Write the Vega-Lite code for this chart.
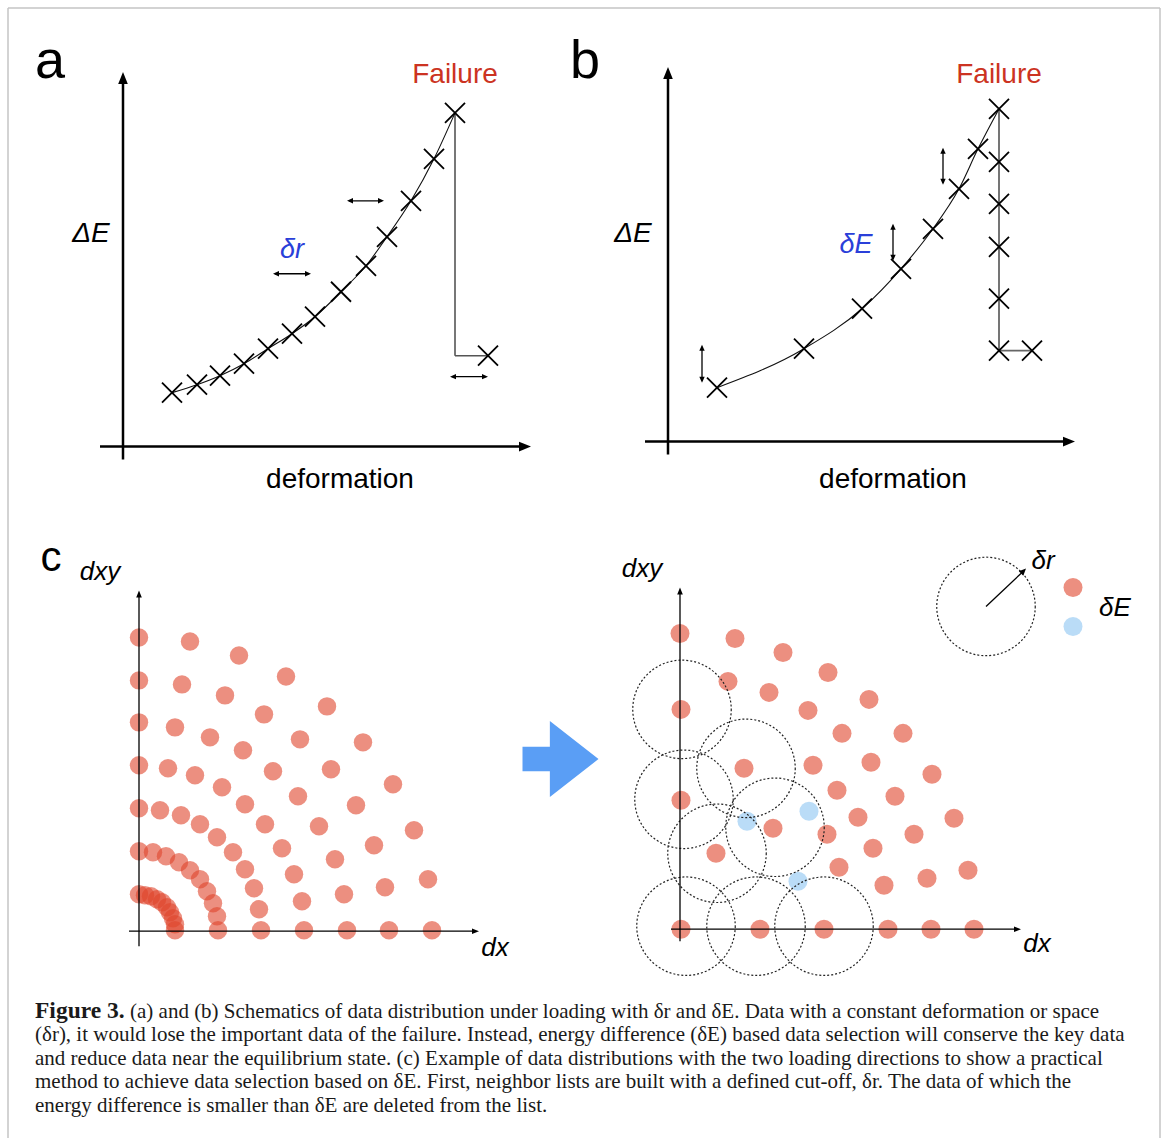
{
  "$schema": "https://vega.github.io/schema/vega-lite/v6.json",
  "width": 1167,
  "height": 1139,
  "padding": 0,
  "autosize": {"type": "fit", "contains": "padding"},
  "background": "white",
  "config": {"view": {"stroke": null}},
  "datasets": {
    "frame": [{"x":8,"y":8,"x2":1160,"y2":8},{"x":8,"y":8,"x2":8,"y2":1139},{"x":1160,"y":8,"x2":1160,"y2":1139}],
    "axesAB": [{"x":123,"y":460,"x2":123,"y2":80},{"x":100,"y":447,"x2":524,"y2":447},{"x":668,"y":455,"x2":668,"y2":75},{"x":645,"y":442,"x2":1067,"y2":442}],
    "headUpAB": [{"x":123,"y":72},{"x":668,"y":67}],
    "headRightAB": [{"x":531,"y":447},{"x":1075,"y":442}],
    "axesC": [{"x":139,"y":947,"x2":139,"y2":596},{"x":129,"y":932,"x2":474,"y2":932},{"x":680,"y":942,"x2":680,"y2":593},{"x":671,"y":930,"x2":1016,"y2":930}],
    "headUpC": [{"x":139,"y":591},{"x":680,"y":588}],
    "headRightC": [{"x":479,"y":932},{"x":1021,"y":930}],
    "shafts": [{"x":275,"y":274,"x2":309,"y2":274},{"x":349,"y":201,"x2":382,"y2":201},{"x":452,"y":377,"x2":486,"y2":377},{"x":702,"y":347,"x2":702,"y2":381},{"x":893,"y":226,"x2":893,"y2":259},{"x":943,"y":150,"x2":943,"y2":183},{"x":986,"y":607,"x2":1022,"y2":573}],
    "headLeftS": [{"x":273,"y":274},{"x":347,"y":201},{"x":450,"y":377}],
    "headRightS": [{"x":311,"y":274},{"x":384,"y":201},{"x":488,"y":377}],
    "headUpS": [{"x":702,"y":345},{"x":893,"y":224},{"x":943,"y":148}],
    "headDownS": [{"x":702,"y":383},{"x":893,"y":261},{"x":943,"y":185}],
    "headDiag": [{"x":1026,"y":569}],
    "curveA": [{"x":172,"y":393},{"x":197,"y":385},{"x":220,"y":376},{"x":244,"y":364},{"x":268,"y":349},{"x":292,"y":334},{"x":315,"y":317},{"x":341,"y":292},{"x":366,"y":266},{"x":387,"y":237},{"x":411,"y":201},{"x":434,"y":159},{"x":455,"y":113}],
    "crossA": [{"x":172,"y":393},{"x":197,"y":385},{"x":220,"y":376},{"x":244,"y":364},{"x":268,"y":349},{"x":292,"y":334},{"x":315,"y":317},{"x":341,"y":292},{"x":366,"y":266},{"x":387,"y":237},{"x":411,"y":201},{"x":434,"y":159},{"x":455,"y":113},{"x":488,"y":356}],
    "dropA": [{"x":455,"y":113,"x2":455,"y2":356},{"x":455,"y":356,"x2":488,"y2":356}],
    "curveB": [{"x":717,"y":388},{"x":804,"y":349},{"x":862,"y":309},{"x":901,"y":269},{"x":933,"y":229},{"x":959,"y":189},{"x":978,"y":149},{"x":999,"y":109}],
    "crossB": [{"x":717,"y":388},{"x":804,"y":349},{"x":862,"y":309},{"x":901,"y":269},{"x":933,"y":229},{"x":959,"y":189},{"x":978,"y":149},{"x":999,"y":109},{"x":999,"y":162},{"x":999,"y":204},{"x":999,"y":247},{"x":999,"y":299},{"x":999,"y":351},{"x":1032,"y":351}],
    "dropB": [{"x":999,"y":109,"x2":999,"y2":351},{"x":999,"y":351,"x2":1032,"y2":351}],
    "dotsL": [
      {"x":175,"y":931},{"x":175,"y":925},{"x":173,"y":919},{"x":170,"y":913},{"x":167,"y":908},{"x":162,"y":903},{"x":157,"y":900},{"x":151,"y":897},{"x":145,"y":896},{"x":139,"y":895},
      {"x":218,"y":931},{"x":217,"y":917},{"x":213,"y":904},{"x":207,"y":892},{"x":200,"y":880},{"x":190,"y":871},{"x":179,"y":863},{"x":166,"y":857},{"x":153,"y":853},{"x":139,"y":852},
      {"x":261,"y":931},{"x":259,"y":910},{"x":254,"y":889},{"x":245,"y":870},{"x":233,"y":853},{"x":217,"y":838},{"x":200,"y":825},{"x":181,"y":816},{"x":160,"y":811},{"x":139,"y":809},
      {"x":304,"y":931},{"x":302,"y":902},{"x":294,"y":875},{"x":282,"y":849},{"x":265,"y":825},{"x":245,"y":805},{"x":222,"y":788},{"x":195,"y":776},{"x":168,"y":769},{"x":139,"y":766},
      {"x":347,"y":931},{"x":344,"y":895},{"x":335,"y":860},{"x":319,"y":827},{"x":298,"y":797},{"x":273,"y":772},{"x":243,"y":751},{"x":210,"y":738},{"x":175,"y":728},{"x":139,"y":723},
      {"x":389,"y":931},{"x":385,"y":888},{"x":374,"y":846},{"x":356,"y":806},{"x":331,"y":770},{"x":300,"y":740},{"x":264,"y":715},{"x":225,"y":696},{"x":182,"y":685},{"x":139,"y":681},
      {"x":432,"y":931},{"x":428,"y":880},{"x":414,"y":831},{"x":393,"y":785},{"x":363,"y":743},{"x":327,"y":707},{"x":286,"y":677},{"x":239,"y":656},{"x":190,"y":642},{"x":139,"y":638}
    ],
    "dotsR": [
      {"x":680,"y":634},{"x":735,"y":639},{"x":783,"y":653},{"x":828,"y":673},{"x":869,"y":700},{"x":903,"y":734},{"x":932,"y":775},{"x":954,"y":819},{"x":968,"y":871},{"x":974,"y":930},
      {"x":728,"y":682},{"x":769,"y":693},{"x":808,"y":711},{"x":842,"y":734},{"x":871,"y":763},{"x":895,"y":797},{"x":914,"y":835},{"x":927,"y":879},{"x":931,"y":930},
      {"x":681,"y":710},
      {"x":744,"y":769},{"x":813,"y":766},{"x":837,"y":791},{"x":858,"y":818},{"x":873,"y":849},{"x":884,"y":886},{"x":888,"y":930},
      {"x":681,"y":801},
      {"x":773,"y":829},{"x":827,"y":835},{"x":839,"y":868},{"x":824,"y":930},
      {"x":716,"y":854},
      {"x":681,"y":930},{"x":760,"y":930},
      {"x":1073,"y":588}
    ],
    "dotsB": [{"x":747,"y":822},{"x":809,"y":812},{"x":798,"y":882},{"x":1073,"y":627}],
    "circles": [{"x":682,"y":710},{"x":746,"y":769},{"x":684,"y":800},{"x":717,"y":854},{"x":775,"y":828},{"x":686,"y":927},{"x":756,"y":927},{"x":824,"y":927},{"x":986,"y":607}],
    "bigArrow": [{"x":560.5,"y":759.7}],
    "letters": [{"x":50,"y":78,"t":"a"},{"x":585,"y":78,"t":"b"}],
    "letterC": [{"x":51,"y":572,"t":"c"}],
    "failure": [{"x":455,"y":83,"t":"Failure"},{"x":999,"y":83,"t":"Failure"}],
    "titleItalic": [{"x":91,"y":242,"t":"ΔE"},{"x":633,"y":242,"t":"ΔE"}],
    "titleNormal": [{"x":340,"y":488,"t":"deformation"},{"x":893,"y":488,"t":"deformation"}],
    "blueLabels": [{"x":292,"y":258,"t":"δr"},{"x":856,"y":253,"t":"δE"}],
    "cLabels": [{"x":100,"y":581,"t":"dxy"},{"x":495,"y":957,"t":"dx"},{"x":642,"y":578,"t":"dxy"},{"x":1037,"y":953,"t":"dx"},{"x":1043,"y":569,"t":"δr"},{"x":1115,"y":617,"t":"δE"}],
    "capBold": [{"x":35,"y":1019,"t":"Figure 3."}],
    "capText": [
      {"x":130,"y":1019,"t":"(a) and (b) Schematics of data distribution under loading with δr and δE. Data with a constant deformation or space"},
      {"x":35,"y":1042,"t":"(δr), it would lose the important data of the failure. Instead, energy difference (δE) based data selection will conserve the key data"},
      {"x":35,"y":1066,"t":"and reduce data near the equilibrium state. (c) Example of data distributions with the two loading directions to show a practical"},
      {"x":35,"y":1089,"t":"method to achieve data selection based on δE. First, neighbor lists are built with a defined cut-off, δr. The data of which the"},
      {"x":35,"y":1113,"t":"energy difference is smaller than δE are deleted from the list."}
    ]
  },
  "encoding": {
    "x": {"field": "x", "type": "quantitative", "scale": {"domain": [0, 1167], "nice": false, "zero": false}, "axis": null},
    "y": {"field": "y", "type": "quantitative", "scale": {"domain": [0, 1139], "reverse": true, "nice": false, "zero": false}, "axis": null}
  },
  "layer": [
    {"data": {"name": "frame"}, "mark": {"type": "rule", "color": "#c4c4c4", "strokeWidth": 1.5}, "encoding": {"x2": {"field": "x2"}, "y2": {"field": "y2"}}},
    {"data": {"name": "dotsL"}, "mark": {"type": "point", "shape": "circle", "filled": true, "size": 340, "color": "#e0442c", "opacity": 0.6, "strokeWidth": 0}},
    {"data": {"name": "dotsR"}, "mark": {"type": "point", "shape": "circle", "filled": true, "size": 361, "color": "#e0442c", "opacity": 0.6, "strokeWidth": 0}},
    {"data": {"name": "dotsB"}, "mark": {"type": "point", "shape": "circle", "filled": true, "size": 361, "color": "#8cc4f2", "opacity": 0.6, "strokeWidth": 0}},
    {"data": {"name": "circles"}, "mark": {"type": "point", "shape": "circle", "filled": false, "size": 9700, "color": "#222222", "opacity": 1, "strokeWidth": 1.2, "strokeDash": [2, 2]}},
    {"data": {"name": "axesAB"}, "mark": {"type": "rule", "color": "#000000", "strokeWidth": 2.5}, "encoding": {"x2": {"field": "x2"}, "y2": {"field": "y2"}}},
    {"data": {"name": "headUpAB"}, "mark": {"type": "point", "shape": "M0,0L-0.4,1L0.4,1Z", "filled": true, "size": 576, "color": "#000000", "opacity": 1, "strokeWidth": 0}},
    {"data": {"name": "headRightAB"}, "mark": {"type": "point", "shape": "M0,0L-1,-0.4L-1,0.4Z", "filled": true, "size": 576, "color": "#000000", "opacity": 1, "strokeWidth": 0}},
    {"data": {"name": "axesC"}, "mark": {"type": "rule", "color": "#000000", "strokeWidth": 1.3}, "encoding": {"x2": {"field": "x2"}, "y2": {"field": "y2"}}},
    {"data": {"name": "headUpC"}, "mark": {"type": "point", "shape": "M0,0L-0.4,1L0.4,1Z", "filled": true, "size": 196, "color": "#000000", "opacity": 1, "strokeWidth": 0}},
    {"data": {"name": "headRightC"}, "mark": {"type": "point", "shape": "M0,0L-1,-0.4L-1,0.4Z", "filled": true, "size": 196, "color": "#000000", "opacity": 1, "strokeWidth": 0}},
    {"data": {"name": "shafts"}, "mark": {"type": "rule", "color": "#000000", "strokeWidth": 1.3}, "encoding": {"x2": {"field": "x2"}, "y2": {"field": "y2"}}},
    {"data": {"name": "headLeftS"}, "mark": {"type": "point", "shape": "M0,0L1,-0.45L1,0.45Z", "filled": true, "size": 144, "color": "#000000", "opacity": 1, "strokeWidth": 0}},
    {"data": {"name": "headRightS"}, "mark": {"type": "point", "shape": "M0,0L-1,-0.45L-1,0.45Z", "filled": true, "size": 144, "color": "#000000", "opacity": 1, "strokeWidth": 0}},
    {"data": {"name": "headUpS"}, "mark": {"type": "point", "shape": "M0,0L-0.45,1L0.45,1Z", "filled": true, "size": 144, "color": "#000000", "opacity": 1, "strokeWidth": 0}},
    {"data": {"name": "headDownS"}, "mark": {"type": "point", "shape": "M0,0L-0.45,-1L0.45,-1Z", "filled": true, "size": 144, "color": "#000000", "opacity": 1, "strokeWidth": 0}},
    {"data": {"name": "headDiag"}, "mark": {"type": "point", "shape": "M0,0L-1,-0.45L-1,0.45Z", "angle": 315, "filled": true, "size": 196, "color": "#000000", "opacity": 1, "strokeWidth": 0}},
    {"data": {"name": "dropA"}, "mark": {"type": "rule", "color": "#555555", "strokeWidth": 1.6}, "encoding": {"x2": {"field": "x2"}, "y2": {"field": "y2"}}},
    {"data": {"name": "dropB"}, "mark": {"type": "rule", "color": "#666666", "strokeWidth": 1.8}, "encoding": {"x2": {"field": "x2"}, "y2": {"field": "y2"}}},
    {"data": {"name": "curveA"}, "mark": {"type": "line", "color": "#111111", "strokeWidth": 1.1, "interpolate": "monotone"}, "encoding": {}},
    {"data": {"name": "curveB"}, "mark": {"type": "line", "color": "#111111", "strokeWidth": 1.1, "interpolate": "monotone"}, "encoding": {}},
    {"data": {"name": "crossA"}, "mark": {"type": "point", "shape": "M-1,-1L1,1M-1,1L1,-1", "filled": false, "size": 400, "color": "#000000", "opacity": 1, "strokeWidth": 1.8}},
    {"data": {"name": "crossB"}, "mark": {"type": "point", "shape": "M-1,-1L1,1M-1,1L1,-1", "filled": false, "size": 400, "color": "#000000", "opacity": 1, "strokeWidth": 1.8}},
    {"data": {"name": "bigArrow"}, "mark": {"type": "point", "shape": "M-1,-0.32L-0.28,-0.32L-0.28,-1L1,0L-0.28,1L-0.28,0.32L-1,0.32Z", "filled": true, "size": 5776, "color": "#5a9ef5", "opacity": 1, "strokeWidth": 0}},
    {"data": {"name": "letters"}, "mark": {"type": "text", "font": "Liberation Sans", "fontSize": 54, "align": "center", "baseline": "alphabetic", "color": "#000000"}, "encoding": {"text": {"field": "t"}}},
    {"data": {"name": "letterC"}, "mark": {"type": "text", "font": "Liberation Sans", "fontSize": 42, "align": "center", "baseline": "alphabetic", "color": "#000000"}, "encoding": {"text": {"field": "t"}}},
    {"data": {"name": "failure"}, "mark": {"type": "text", "font": "Liberation Sans", "fontSize": 28, "align": "center", "baseline": "alphabetic", "color": "#cc3322"}, "encoding": {"text": {"field": "t"}}},
    {"data": {"name": "titleItalic"}, "mark": {"type": "text", "font": "Liberation Sans", "fontSize": 28, "fontStyle": "italic", "align": "center", "baseline": "alphabetic", "color": "#000000"}, "encoding": {"text": {"field": "t"}}},
    {"data": {"name": "titleNormal"}, "mark": {"type": "text", "font": "Liberation Sans", "fontSize": 28, "align": "center", "baseline": "alphabetic", "color": "#000000"}, "encoding": {"text": {"field": "t"}}},
    {"data": {"name": "blueLabels"}, "mark": {"type": "text", "font": "Liberation Sans", "fontSize": 27, "fontStyle": "italic", "align": "center", "baseline": "alphabetic", "color": "#2a3fd9"}, "encoding": {"text": {"field": "t"}}},
    {"data": {"name": "cLabels"}, "mark": {"type": "text", "font": "Liberation Sans", "fontSize": 26, "fontStyle": "italic", "align": "center", "baseline": "alphabetic", "color": "#000000"}, "encoding": {"text": {"field": "t"}}},
    {"data": {"name": "capBold"}, "mark": {"type": "text", "font": "Liberation Serif", "fontSize": 23.5, "fontWeight": "bold", "align": "left", "baseline": "alphabetic", "color": "#1a1a1a"}, "encoding": {"text": {"field": "t"}}},
    {"data": {"name": "capText"}, "mark": {"type": "text", "font": "Liberation Serif", "fontSize": 21, "align": "left", "baseline": "alphabetic", "color": "#1a1a1a"}, "encoding": {"text": {"field": "t"}}}
  ]
}
